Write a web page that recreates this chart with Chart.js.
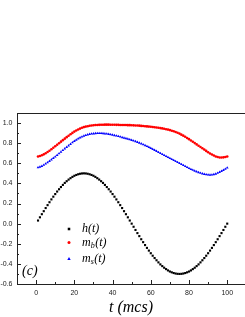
<!DOCTYPE html>
<html>
<head>
<meta charset="utf-8">
<script src="https://cdn.jsdelivr.net/npm/chart.js@4.4.1/dist/chart.umd.min.js"></script>
<style>
html,body{margin:0;padding:0;background:#fff;overflow:hidden;}
canvas{display:block;}
</style>
</head>
<body>
<canvas id="c" width="245" height="317"></canvas>
<script>
// time axis (mcs)
const T = [1,2,3,4,5,6,7,8,9,10,11,12,13,14,15,16,17,18,19,20,21,22,23,24,25,26,27,28,29,30,
31,32,33,34,35,36,37,38,39,40,41,42,43,44,45,46,47,48,49,50,51,52,53,54,55,56,57,58,59,60,
61,62,63,64,65,66,67,68,69,70,71,72,73,74,75,76,77,78,79,80,81,82,83,84,85,86,87,88,89,90,
91,92,93,94,95,96,97,98,99,100];

// h(t)
const H = [0.031,0.063,0.094,0.124,0.155,0.184,0.213,0.241,0.268,0.294,0.319,0.342,0.364,0.385,0.405,0.422,0.438,0.452,0.465,0.476,0.484,0.491,0.496,0.499,0.500,
0.499,0.496,0.491,0.484,0.476,0.465,0.452,0.438,0.422,0.405,0.385,0.364,0.342,0.319,0.294,0.268,0.241,0.213,0.184,0.155,0.124,0.094,0.063,0.031,0.000,
-0.031,-0.063,-0.094,-0.124,-0.155,-0.184,-0.213,-0.241,-0.268,-0.294,-0.319,-0.342,-0.364,-0.385,-0.405,-0.422,-0.438,-0.452,-0.465,-0.476,-0.484,-0.491,-0.496,-0.499,-0.500,
-0.499,-0.496,-0.491,-0.484,-0.476,-0.465,-0.452,-0.438,-0.422,-0.405,-0.385,-0.364,-0.342,-0.319,-0.294,-0.268,-0.241,-0.213,-0.184,-0.155,-0.124,-0.094,-0.063,-0.031,0.000];

// m_b(t)
const MB = [0.668,0.673,0.680,0.689,0.700,0.712,0.725,0.739,0.754,0.770,
0.785,0.800,0.815,0.830,0.845,0.860,0.874,0.888,0.902,0.915,
0.926,0.936,0.945,0.953,0.960,0.965,0.969,0.973,0.976,0.978,
0.980,0.981,0.982,0.983,0.983,0.984,0.984,0.984,0.983,0.983,
0.983,0.982,0.982,0.981,0.981,0.980,0.980,0.979,0.979,0.978,
0.977,0.976,0.975,0.974,0.972,0.971,0.969,0.967,0.965,0.963,
0.961,0.958,0.956,0.953,0.950,0.947,0.943,0.939,0.935,0.930,
0.924,0.918,0.911,0.903,0.895,0.885,0.875,0.864,0.852,0.840,
0.827,0.814,0.801,0.788,0.775,0.762,0.749,0.736,0.723,0.710,
0.698,0.687,0.677,0.668,0.662,0.658,0.657,0.659,0.663,0.668];

// m_s(t)
const MS = [0.558,0.564,0.572,0.583,0.595,0.608,0.622,0.636,0.651,0.665,
0.681,0.697,0.713,0.729,0.745,0.760,0.776,0.791,0.806,0.820,
0.833,0.845,0.855,0.864,0.872,0.879,0.885,0.889,0.893,0.895,
0.897,0.898,0.898,0.898,0.897,0.895,0.893,0.890,0.886,0.882,
0.878,0.874,0.869,0.864,0.858,0.853,0.847,0.842,0.836,0.830,
0.824,0.817,0.810,0.803,0.795,0.787,0.778,0.769,0.760,0.750,
0.740,0.730,0.720,0.710,0.700,0.690,0.680,0.670,0.660,0.650,
0.640,0.630,0.620,0.610,0.600,0.590,0.580,0.570,0.560,0.550,
0.541,0.533,0.525,0.517,0.510,0.503,0.497,0.492,0.488,0.486,
0.485,0.486,0.489,0.495,0.503,0.512,0.522,0.532,0.543,0.555];

const X_MAJOR = [0,20,40,60,80,100];
const X_MINOR = [-10,10,30,50,70,90];
const Y_MAJOR = [-0.6,-0.4,-0.2,0.0,0.2,0.4,0.6,0.8,1.0];
const Y_MINOR = [-0.5,-0.3,-0.1,0.1,0.3,0.5,0.7,0.9];

const pts = (ys) => T.map((t,i)=>({x:t,y:ys[i]}));

const AXIS = '#222';
const SERIF = '"Liberation Serif","DejaVu Serif",serif';
const SANS = '"Liberation Sans",Arial,sans-serif';

function drawMarker(ctx, style, x, y, r, color){
  ctx.fillStyle = color;
  ctx.beginPath();
  if(style==='rect'){
    const s = r*Math.SQRT1_2;
    ctx.rect(x-s,y-s,2*s,2*s);
  } else if(style==='triangle'){
    ctx.moveTo(x, y - r);
    ctx.lineTo(x + r*0.866, y + r*0.5);
    ctx.lineTo(x - r*0.866, y + r*0.5);
    ctx.closePath();
  } else {
    ctx.arc(x,y,r,0,Math.PI*2);
  }
  ctx.fill();
}

const framePlugin = {
  id:'frame',
  afterDraw(chart){
    const {ctx, chartArea:a, scales:{x,y}} = chart;
    ctx.save();
    ctx.strokeStyle = AXIS; ctx.lineWidth = 1;
    ctx.beginPath();
    ctx.moveTo(a.left, Math.round(a.top)+0.5); ctx.lineTo(a.right, Math.round(a.top)+0.5);
    const b = Math.round(a.bottom);
    X_MAJOR.forEach(v=>{const p=Math.round(x.getPixelForValue(v))+0.5; ctx.moveTo(p,b); ctx.lineTo(p,b-4);});
    X_MINOR.forEach(v=>{const p=Math.round(x.getPixelForValue(v))+0.5; ctx.moveTo(p,b); ctx.lineTo(p,b-2);});
    const l = Math.round(a.left);
    Y_MAJOR.forEach(v=>{const p=Math.round(y.getPixelForValue(v))+0.5; ctx.moveTo(l,p); ctx.lineTo(l+4,p);});
    Y_MINOR.forEach(v=>{const p=Math.round(y.getPixelForValue(v))+0.5; ctx.moveTo(l,p); ctx.lineTo(l+2,p);});
    ctx.stroke();

    // legend
    const mx = a.left + 52, lx = a.left + 65;
    const rows = [a.top+116, a.top+129.5, a.top+146];
    drawMarker(ctx,'rect',mx,rows[0],1.8,'#000');
    drawMarker(ctx,'circle',mx,rows[1],1.5,'#ff0000');
    drawMarker(ctx,'triangle',mx,rows[2],2.0,'#0000ff');
    ctx.fillStyle = '#000';
    ctx.textBaseline = 'middle';
    ctx.textAlign = 'left';
    const big = 'italic 12px ' + SERIF, small = 'italic 8px ' + SERIF;
    ctx.font = big;
    ctx.fillText('h(t)', lx, rows[0]);
    const sub = (letter, yy) => {
      ctx.font = big; ctx.fillText('m', lx, yy);
      let w = ctx.measureText('m').width;
      ctx.font = small; ctx.fillText(letter, lx + w, yy + 3);
      w += ctx.measureText(letter).width + 0.5;
      ctx.font = big; ctx.fillText('(t)', lx + w, yy);
    };
    sub('b', rows[1]);
    sub('s', rows[2]);

    // panel label
    ctx.font = 'italic 14px ' + SERIF;
    ctx.fillText('(c)', a.left + 5, a.top + 158);
    ctx.restore();
  }
};

new Chart(document.getElementById('c'), {
  type:'scatter',
  data:{
    datasets:[
      {label:'h(t)', data:pts(H), pointStyle:'rect', pointRadius:1.5, pointHoverRadius:1.5, pointBorderWidth:0, backgroundColor:'#000', borderColor:'#000', showLine:false},
      {label:'m_b(t)', data:pts(MB), pointStyle:'circle', pointRadius:1.3, pointHoverRadius:1.3, pointBorderWidth:0, backgroundColor:'#ff0000', borderColor:'#ff0000', showLine:false},
      {label:'m_s(t)', data:pts(MS), pointStyle:'triangle', pointRadius:1.6, pointHoverRadius:1.6, pointBorderWidth:0, backgroundColor:'#0000ff', borderColor:'#0000ff', showLine:false}
    ]
  },
  options:{
    responsive:false,
    animation:false,
    devicePixelRatio:1,
    events:[],
    layout:{autoPadding:false, padding:{top:113,left:0,right:0,bottom:0}},
    plugins:{legend:{display:false}, tooltip:{enabled:false}},
    scales:{
      x:{
        type:'linear', min:-10, max:109.3,
        afterBuildTicks(s){ s.ticks = X_MAJOR.map(v=>({value:v})); },
        afterFit(s){ s.height = 33; s.paddingLeft = 0; s.paddingRight = 0; },
        grid:{display:false, drawTicks:false},
        border:{display:true, color:AXIS, width:1},
        ticks:{padding:5, color:'#222', font:{family:SANS, size:7}, maxRotation:0, autoSkip:false,
          callback:(v)=>String(v)},
        title:{display:true, text:'t (mcs)', color:'#000', font:{family:SERIF, size:16, style:'italic'}, padding:{top:0,bottom:0}}
      },
      y:{
        type:'linear', min:-0.6, max:1.1,
        afterBuildTicks(s){ s.ticks = Y_MAJOR.map(v=>({value:v})); },
        afterFit(s){ s.width = 17; s.paddingTop = 0; s.paddingBottom = 0; },
        grid:{display:false, drawTicks:false},
        border:{display:true, color:AXIS, width:1},
        ticks:{padding:4.5, color:'#222', font:{family:SANS, size:7}, autoSkip:false,
          callback:(v)=>Number(v).toFixed(1)}
      }
    }
  },
  plugins:[framePlugin]
});
</script>
</body>
</html>
